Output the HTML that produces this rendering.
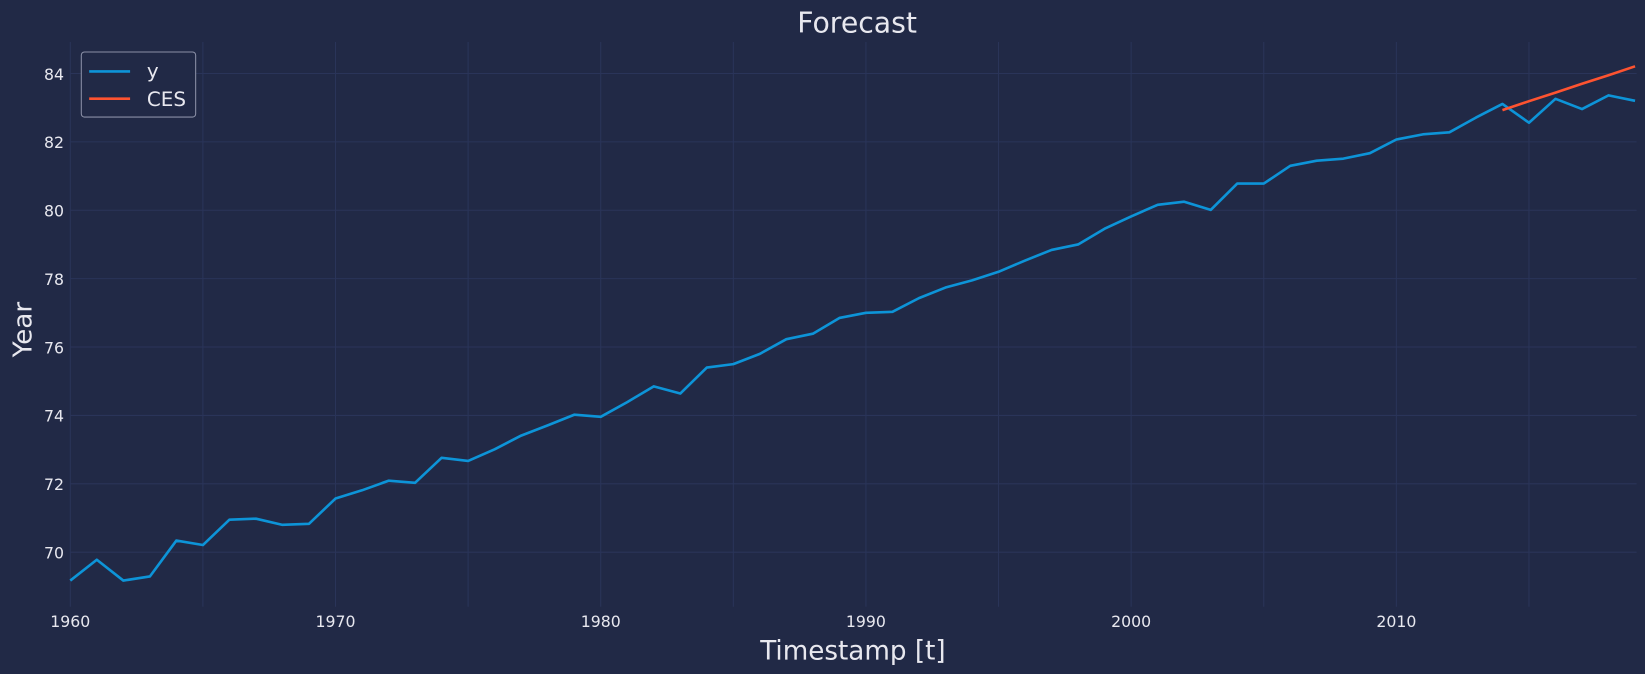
<!DOCTYPE html>
<html><head><meta charset="utf-8"><style>
body{margin:0;background:#212946;}
svg{display:block;font-family:"DejaVu Sans","Liberation Sans",sans-serif;}
</style></head><body>
<svg id="chart" width="1645" height="674" viewBox="0 0 1568 642" preserveAspectRatio="none">
<rect width="1568" height="642" fill="#212946"/>
<g id="grid"></g>
<g id="ticks"></g>
<g id="series"></g>
<text x="817" y="31" fill="#e8e8ef" font-size="27" text-anchor="middle">Forecast</text>
<text x="813" y="628" fill="#e8e8ef" font-size="25" text-anchor="middle">Timestamp [t]</text>
<text transform="translate(30,314) rotate(-90)" fill="#e8e8ef" font-size="25" text-anchor="middle">Year</text>
<g>
<rect x="77.5" y="49.5" width="109" height="62" rx="3" fill="#212946" stroke="#8a8fa6" stroke-width="1"/>
<line x1="85" y1="68" x2="124" y2="68" stroke="#0d94d8" stroke-width="2.5"/>
<text x="140" y="74" fill="#e8e8ef" font-size="19">y</text>
<line x1="85" y1="94" x2="124" y2="94" stroke="#fe5330" stroke-width="2.5"/>
<text x="140" y="101" fill="#e8e8ef" font-size="19">CES</text>
</g>
</svg>
<script>
const years=[];for(let i=1960;i<=2019;i++)years.push(i);
const yValues=[69.17,69.78,69.17,69.29,70.34,70.21,70.95,70.98,70.80,70.83,71.57,71.81,72.09,72.03,72.76,72.67,73.01,73.41,73.71,74.02,73.96,74.39,74.85,74.64,75.40,75.50,75.80,76.23,76.39,76.85,77.00,77.03,77.43,77.74,77.95,78.20,78.53,78.84,79.00,79.46,79.82,80.16,80.25,80.01,80.78,80.78,81.30,81.45,81.51,81.67,82.07,82.22,82.28,82.71,83.11,82.56,83.26,82.96,83.36,83.20];
const cesYears=[2014,2015,2016,2017,2018,2019];
const cesValues=[82.93,83.19,83.44,83.70,83.95,84.21];
const xTicks=[1960,1970,1980,1990,2000,2010];
const xGrid=[1960,1965,1970,1975,1980,1985,1990,1995,2000,2005,2010,2015];
const yTicks=[70,72,74,76,78,80,82,84];
const L=67,R=1560,T=40,B=578;
const X=v=>67+(v-1960)*25.28;
const Y=v=>70+(84-v)*32.57;
const NS='http://www.w3.org/2000/svg';
function mk(tag,attrs,parent){const e=document.createElementNS(NS,tag);for(const k in attrs)e.setAttribute(k,attrs[k]);document.getElementById(parent).appendChild(e);return e;}
xGrid.forEach(v=>{const e=mk('line',{x1:X(v),x2:X(v),y1:T,y2:B,stroke:'#2a3459','stroke-width':1},'grid');

});
yTicks.forEach(v=>{const e=mk('line',{x1:L,x2:R,y1:Y(v),y2:Y(v),stroke:'#2a3459','stroke-width':1},'grid');


const t=mk('text',{x:61,y:Y(v)+6,fill:'#e8e8ef','font-size':15,'text-anchor':'end'},'ticks');t.textContent=v;

});
xTicks.forEach(v=>{const t=mk('text',{x:X(v),y:597,fill:'#e8e8ef','font-size':15,'text-anchor':'middle'},'ticks');t.textContent=v;

});
const p1=mk('polyline',{points:years.map((y,i)=>X(y)+','+Y(yValues[i])).join(' '),fill:'none',stroke:'#0d94d8','stroke-width':2.5,'stroke-linejoin':'round'},'series');


const p2=mk('polyline',{points:cesYears.map((y,i)=>X(y)+','+Y(cesValues[i])).join(' '),fill:'none',stroke:'#fe5330','stroke-width':2.5},'series');


</script>
</body></html>
